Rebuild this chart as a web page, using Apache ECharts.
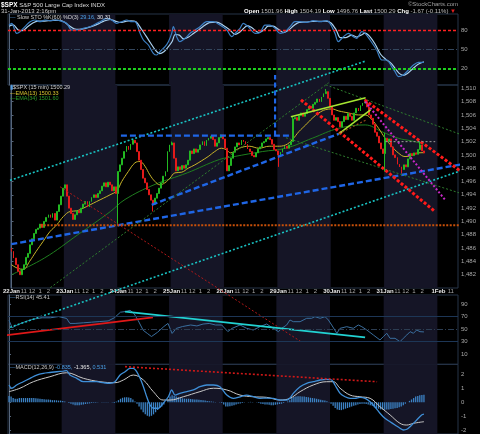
<!DOCTYPE html>
<html><head><meta charset="utf-8">
<script src="https://cdn.jsdelivr.net/npm/echarts@6/dist/echarts.min.js"></script>
<style>html,body{margin:0;padding:0;background:#000;}#c{width:480px;height:434px;}</style>
</head><body><div id="c"></div>
<script>
// ================= DATA =================
const dayLabels = ['22Jan','23Jan','24Jan','25Jan','28Jan','29Jan','30Jan','31Jan','1Feb'];
const hourLabels = ['11','12','1','2'];
const hourBarOffsets = [6,10,14,18];
const barsPerDay = 26;
const totalSlots = 218;
const firstOpen = 1486.0;

// 15-min closes, 22 Jan .. 31 Jan 2:15pm
const closesDay1 = [1485.5,1484.5,1483.5,1482.5,1482.0,1482.8,1483.5,1484.6,1485.2,1486.5,1487.4,1488.2,1488.8,1489.0,1489.6,1489.1,1490.0,1490.6,1491.0,1490.6,1491.2,1490.2,1491.5,1492.5,1493.8,1495.0];
const closesDay2 = [1495.5,1493.8,1492.0,1491.2,1490.3,1491.0,1491.6,1491.3,1492.0,1492.6,1493.0,1492.2,1493.0,1493.6,1494.0,1493.6,1494.2,1494.6,1495.3,1495.8,1495.2,1495.9,1495.5,1494.6,1495.2,1494.2];
const closesDay3 = [1497.5,1498.5,1499.5,1500.5,1501.3,1500.8,1501.6,1502.2,1501.8,1500.5,1499.2,1497.8,1496.5,1495.8,1494.8,1494.0,1493.2,1492.6,1493.5,1494.2,1495.0,1495.8,1496.8,1497.5,1500.5,1501.5];
const closesDay4 = [1501.8,1499.5,1497.6,1498.2,1497.8,1498.4,1498.0,1498.5,1499.2,1500.6,1500.2,1500.9,1500.4,1500.8,1501.5,1502.0,1501.4,1502.2,1502.5,1502.8,1502.3,1501.3,1501.8,1502.6,1503.0,1502.4];
const closesDay5 = [1501.0,1497.6,1498.4,1499.5,1500.4,1501.2,1501.8,1501.5,1502.2,1502.0,1501.6,1500.9,1500.5,1499.9,1499.7,1500.3,1500.9,1501.2,1501.8,1502.0,1502.4,1502.6,1502.3,1501.6,1500.8,1500.6];
const closesDay6 = [1500.0,1500.4,1500.9,1501.3,1501.0,1501.5,1502.0,1505.4,1505.6,1505.2,1505.9,1506.3,1505.8,1506.2,1506.8,1507.3,1507.0,1507.6,1507.9,1508.4,1508.0,1508.7,1509.2,1509.5,1508.5,1507.2];
const closesDay7 = [1506.0,1505.2,1505.6,1505.0,1504.2,1505.0,1505.8,1505.3,1506.2,1505.8,1505.2,1506.3,1507.0,1506.6,1507.4,1507.8,1508.0,1507.2,1506.0,1505.5,1504.6,1503.4,1502.8,1501.8,1500.9,1500.2];
const closesDay8 = [1502.5,1502.0,1502.4,1501.2,1500.0,1499.6,1498.6,1498.2,1497.8,1498.5,1498.2,1499.4,1500.2,1499.9,1500.3,1500.1,1500.8,1501.5,1500.6,1500.29];
// notable wicks: bar -> [low, high]
const wickExtremes = {52:[1489.5,null],69:[1491.5,null],78:[null,1502.0],130:[1498.2,null],137:[null,1505.8],153:[null,1509.9],182:[1497.5,1503.3],190:[1497.2,null],199:[null,1502.0]};

// EMA lines [bar, value]
const ema13Pts = [[0,1483.5],[2.7,1483.0],[5.7,1482.8],[8.8,1484.0],[12,1485.5],[15.4,1487],[18.8,1488.5],[22.1,1489.5],[25.3,1490.75],[28.6,1491.5],[31.8,1491.6],[35,1492.0],[38.3,1492.5],[41.5,1493.0],[44.8,1493.5],[48,1494.0],[51.3,1494.6],[53.7,1496.0],[56.9,1497.5],[60.1,1498.8],[62.6,1499.0],[65,1498.3],[67.4,1497.0],[69.9,1496.0],[72.3,1495.5],[74.7,1495.8],[77.2,1496.5],[79.6,1497.3],[82.9,1497.4],[86.1,1498.0],[89.3,1498.5],[92.5,1499.1],[95.8,1499.75],[99,1500.5],[102.2,1501.0],[104.5,1500.8],[106.8,1500.3],[110.9,1501.0],[115.8,1501.3],[120.6,1501.0],[125.5,1501.3],[129.5,1501.3],[133.6,1501.5],[136.8,1502.3],[140,1503.5],[143.3,1504.5],[146.5,1505.5],[149.7,1506.3],[153,1506.8],[156.1,1506.9],[159.4,1506.6],[164.2,1506.3],[169.1,1506.0],[172.3,1506.0],[175.5,1505.3],[178.8,1504.0],[182,1502.5],[185.2,1501.3],[188.4,1500.3],[191.7,1499.75],[194.9,1499.9],[198.1,1500.3],[201,1500.33]];
const ema34Pts = [[0,1482.0],[16,1484.5],[32.3,1488.0],[48.2,1491.5],[55.3,1493.3],[69.4,1495.5],[85.6,1497.3],[101.2,1499.3],[108.5,1499.75],[122.2,1500.5],[133.6,1501.0],[146.5,1502.5],[159.4,1504.0],[172.3,1504.5],[180.3,1503.5],[188.4,1502.5],[194.9,1502.1],[201,1501.6]];

// Slow stochastic [bar, value]
const stochK = [[0,87.8],[1.3,90.5],[3.7,74.8],[5.3,77.4],[7.7,85.2],[10.2,93],[12.6,95.7],[15,93],[17.4,95.7],[19.8,94.8],[22.3,95.7],[24.7,94.6],[27.9,90.5],[30.4,80],[32.8,80],[36,82.6],[39.2,85.2],[42.5,90.5],[44.1,93],[47.3,98.3],[49.7,95.7],[52.2,90.5],[54.6,93],[57,95.7],[59.4,93],[61,93],[63.5,74.8],[65.1,64.3],[67.5,56.5],[69.9,43.5],[71.5,40.8],[73.1,46],[75.6,53.8],[77.2,61.7],[78.8,74.8],[79.6,85.2],[81.2,69.5],[82.8,61.7],[85.3,67],[87.7,74.8],[90.1,80],[92.5,85.2],[95.8,93],[99,93],[102.2,87.8],[105.5,80],[107.9,69.5],[109.5,74.8],[111.9,82.6],[113.5,90.5],[115.9,85.2],[119.2,74.8],[121.6,76],[124,87.8],[126.4,87.8],[128.9,82.6],[131.3,74.8],[133.7,77.4],[136.1,85.2],[138.5,93],[141,93],[144.2,92],[147.4,94.6],[150.7,93],[153.9,94.6],[155.5,90.5],[157.9,74.8],[159.5,61.7],[162,69.5],[164.4,74.8],[166.8,69.5],[168.4,67],[170.9,77.4],[172.5,74.8],[174.9,64.3],[178.1,48.7],[180.6,33],[183,33],[185.4,22.5],[187,14.7],[188.6,6.8],[191,9.5],[193.5,17.3],[195.9,25.1],[198.3,29.4],[201,29.16]];
const stochD = [[0,86],[2,88],[4.5,80],[6.5,79],[9,85],[11.5,91],[14,94],[16.5,94],[19,94.5],[21.5,95],[24,95],[26.5,93],[29,87],[31.5,82],[34,81],[37,82.5],[40.5,86],[43.5,90],[46,94],[49,96.5],[51.5,94],[54,92],[56.5,93.5],[59,94.5],[61.5,93],[64,82],[66.5,70],[68.5,60],[71,48],[73,43],[75,46],[77,53],[79,62],[80.5,73],[82.5,72],[84.5,66],[87,69],[89.5,75],[92,80.5],[94,85.5],[97,91.5],[100.5,92.5],[103.5,88],[107,80],[109.5,73],[111.5,76],[113.5,82],[115.5,87],[117.5,84],[121,76],[123.5,80],[125.5,86],[128,86],[130.5,81],[133,76],[135.5,80],[138,87],[140.5,92],[144,92.5],[147,93.5],[150.5,93.5],[153.5,94],[156,91],[158.5,80],[160.5,68],[163,68],[166,72],[168.5,69],[170.5,72],[172.5,75],[175,69],[177.5,57],[180,42],[182.5,34],[185,28],[187,20],[189,12],[191,9],[193,12],[195.5,19],[198,26],[201,30.31]];

// RSI(14) [bar, value]
const rsiPts = [[0,64],[1.5,52],[3,55],[5,58],[8,62],[12,66],[16,68],[20,68],[24,70],[27.9,67],[29.5,59],[32,59],[36,60],[40,61],[44,62],[48,63],[51,68],[54,77],[56.5,78],[58.6,80],[60.5,75],[62.5,64],[65,48],[67,43],[69,38],[72,45],[75,54],[77,59],[79,43],[81,51],[84,54],[88,56.5],[91,55],[94,58],[97,59],[100,56.5],[103,56.5],[106,46],[108,51],[111.9,56.5],[115.1,51.2],[118.3,48.5],[121.6,53.8],[124.8,58.1],[128,51.2],[130.5,45.8],[132.1,51.2],[134.5,56.5],[136.1,64.5],[137.7,61.8],[141,61.8],[144.2,67.2],[146.6,67.2],[148.2,69.8],[150.7,67.2],[153.1,69.8],[154.7,64.5],[156.3,56.5],[158.8,43.2],[160.4,51.2],[163.6,53.8],[166.8,51.2],[169.2,56.5],[170.9,53.8],[173.3,48.5],[176.5,40.5],[179.7,32.5],[181.3,37.8],[183,43.2],[184.6,35.2],[187,35.2],[189.4,29.8],[191,35.2],[192.7,40.5],[194.3,45.8],[195.9,43.2],[197.5,48.5],[199.1,45.8],[201,45.41]];

// MACD(12,26,9) [bar, value]
const macdPts = [[0,1.22],[1.3,0.99],[3.7,1.22],[6.9,1.45],[10.2,1.69],[13.4,1.92],[16.6,2.04],[19.8,2.1],[23.1,2.15],[26.3,2.2],[27.9,2.23],[29.5,1.92],[32.8,1.69],[36,1.45],[39.2,1.45],[42.5,1.45],[45.7,1.38],[48.9,1.34],[51.3,1.45],[53.8,1.92],[56.2,2.15],[58.6,2.39],[60.2,2.39],[61.9,2.15],[63.5,1.69],[65.1,1.1],[66.7,0.39],[68.3,-0.19],[69.9,-0.42],[72.3,-0.42],[74.7,-0.07],[77.2,0.39],[78.8,0.87],[80.4,0.51],[82.8,0.63],[86.1,0.75],[89.3,0.87],[92.5,1.1],[95.8,1.22],[99,1.22],[102.2,1.1],[105.5,0.51],[108.7,0.28],[111.9,0.39],[115.1,0.51],[118.3,0.4],[121.6,0.28],[124.8,0.3],[128,0.28],[131.3,0.16],[134.5,0.16],[136.1,0.3],[137.7,0.63],[141,1.1],[144.2,1.34],[147.4,1.45],[150.7,1.57],[153.9,1.62],[156.3,1.57],[157.9,1.22],[160.4,0.63],[162.8,0.39],[165.2,0.28],[167.6,0.28],[170,0.35],[172.5,0.28],[174.9,0.04],[177.2,-0.31],[179.7,-0.77],[182.1,-1.13],[184.6,-1.37],[187,-1.6],[189.4,-1.83],[191,-1.95],[192.7,-1.9],[195.1,-1.6],[197.5,-1.25],[199.9,-0.89],[201,-0.835]];
const signalPts = [[0,0.75],[5.3,0.99],[11.8,1.45],[19.8,1.8],[27.9,2.08],[36,1.69],[44.1,1.45],[51.3,1.38],[55.4,1.57],[60.2,1.92],[65.1,1.57],[69.9,0.75],[74.7,0.16],[78,0.16],[84.4,0.39],[92.5,0.75],[99,0.99],[105.5,0.87],[111.9,0.51],[118.3,0.39],[124.8,0.35],[131.3,0.16],[136.1,0.28],[141,0.75],[147.4,1.22],[153.9,1.45],[157.1,1.45],[160.4,0.99],[165.2,0.51],[170,0.39],[174.9,0.28],[179.7,-0.31],[184.6,-0.89],[189.4,-1.48],[192.7,-1.6],[195.9,-1.48],[201,-1.365]];
const macdHist = [
 0.45,0.4,0.3,0.25,0.25,0.3,0.3,0.3,0.3,0.3,0.3,0.3,0.3,0.28,0.26,0.25,0.24,0.22,0.2,0.2,0.18,0.15,0.15,0.14,0.12,0.12,
 0.1,0.05,0,-0.05,-0.1,-0.15,-0.2,-0.2,-0.2,-0.18,-0.15,-0.12,-0.1,-0.08,-0.05,-0.04,-0.03,-0.02,0,0.02,0.03,0.03,0.02,0.0,-0.02,-0.05,
 0.05,0.15,0.25,0.32,0.35,0.35,0.33,0.3,0.2,0.05,-0.1,-0.3,-0.5,-0.7,-0.85,-0.95,-1.0,-0.95,-0.85,-0.7,-0.55,-0.4,-0.3,-0.15,0,0.2,
 0.4,0.5,0.45,0.4,0.35,0.3,0.28,0.26,0.25,0.25,0.24,0.22,0.2,0.2,0.18,0.16,0.15,0.12,0.1,0.08,0.06,0.04,0.02,0,-0.02,-0.05,
 -0.15,-0.3,-0.3,-0.28,-0.25,-0.2,-0.15,-0.1,-0.08,-0.05,-0.02,0,0.02,0.03,0.02,0,-0.02,-0.05,-0.1,-0.12,-0.15,-0.15,-0.18,-0.2,-0.2,-0.18,
 -0.15,-0.12,-0.1,-0.05,0,0.05,0.15,0.3,0.38,0.4,0.42,0.42,0.4,0.4,0.38,0.35,0.32,0.3,0.28,0.25,0.22,0.18,0.15,0.12,0.08,0.02,
 -0.1,-0.25,-0.4,-0.5,-0.55,-0.55,-0.5,-0.45,-0.4,-0.35,-0.3,-0.25,-0.2,-0.15,-0.12,-0.1,-0.1,-0.12,-0.15,-0.2,-0.25,-0.35,-0.4,-0.45,-0.5,-0.5,
 -0.52,-0.5,-0.5,-0.48,-0.45,-0.42,-0.4,-0.35,-0.3,-0.2,-0.1,0,0.1,0.2,0.3,0.4,0.45,0.5,0.52,0.53];

// hand-drawn trendlines, endpoints as [bar, value]
const priceTrendlines = {
  cyanUpper:[[-4.4,1495.8],[172.5,1514.1]],
  cyanLower:[[-4.4,1473.7],[223.3,1498.1]],
  blueLower:[[-4.4,1486.35],[223.3,1498.8]],
  blueMid:[[68.3,1492.5],[159.4,1503.17]],
  blueTop:[[53.3,1502.9],[136.1,1502.9]],
  blueVertical:[[128.4,1502.9],[128.4,1512.0]],
  orangeSupport:[[14.0,1489.43],[228.3,1489.43]],
  greenRise:[[18.9,1480.05],[154.5,1510.83]],
  greenFallLow:[[133.7,1502.57],[227.2,1493.4]],
  greenFallHigh:[[153.1,1510.53],[225.8,1502.27]],
  redThin:[[23.7,1495.2],[141.0,1471.94]],
  redLower:[[141.0,1508.27],[206.4,1491.46]],
  redUpper:[[172.0,1508.27],[224.3,1496.26]],
  magenta:[[172.3,1508.0],[211.2,1493.26]],
  limeTop:[[136.1,1505.72],[172.5,1508.57]],
  limeDiag:[[159.4,1503.17],[174.9,1506.77]],
  brownShort:[[159.4,1503.17],[172.9,1505.27]],
  grayResist:[[182.2,1502.0],[206.4,1502.0]]
};
const rsiTrendlines = { red:[[-4.4,38.9],[69.7,68.8]], cyan:[[56.2,77.8],[172.5,36.8]] };
const macdTrendlines = { redDots:[[56.2,2.51],[178.3,1.45]] };

const stochLevels = [80,50,20];
const rsiLevels = [70,50,30];
const stochTicks = [20,50,80];
const rsiTicks = [10,30,50,70,90];
const macdTicks = [-2,-1,0,1,2];

// ================= STYLES / BUILD =================
const FONT = '"Liberation Sans", Arial, sans-serif';
const NARROW = '"Liberation Sans Narrow", "Liberation Sans", Arial, sans-serif';
const BORDER = '#263449';
const AXIS = '#56657a';
const LABEL = '#a8a8a8';
const BAND = '#151526';
const UP = '#22b922', DOWN = '#e41a1a';

const closes = [].concat(closesDay1,closesDay2,closesDay3,closesDay4,closesDay5,closesDay6,closesDay7,closesDay8);
const candles = closes.map((c,i)=>{
  const o = i===0 ? firstOpen : closes[i-1];
  let lo = Math.min(o,c), hi = Math.max(o,c);
  const w = wickExtremes[i];
  if (w){ if (w[0]!=null) lo = w[0]; if (w[1]!=null) hi = w[1]; }
  return [o,c,lo,hi];
});
const slotNames = Array.from({length: totalSlots}, (_,i)=>String(i));
const labelMap = {};
dayLabels.forEach((d,k)=>{
  const s = k*barsPerDay;
  if (s < totalSlots) labelMap[s] = {t:d, day:true};
  hourBarOffsets.forEach((off,h)=>{ if (s+off < totalSlots) labelMap[s+off] = {t:hourLabels[h], day:false}; });
});
const bandAreas = [];
for (let d=1; d<dayLabels.length; d+=2){
  bandAreas.push([{xAxis: d*barsPerDay-0.5},{xAxis: (d+1)*barsPerDay-0.5}]);
}

const trendStyles = {
  cyanUpper:{color:'#19c3c3',width:1.6,type:[2,2]},
  cyanLower:{color:'#19c3c3',width:1.6,type:[2,2]},
  blueLower:{color:'#1f66e6',width:2.4,type:[6,3]},
  blueMid:{color:'#1f66e6',width:2.4,type:[6,3]},
  blueTop:{color:'#1f66e6',width:2.4,type:[6,3]},
  blueVertical:{color:'#1f66e6',width:2.2,type:[5,3]},
  orangeSupport:{color:'#c8500a',width:2,type:[2,1.5]},
  greenRise:{color:'#2e7d2e',width:1,type:[2,2]},
  greenFallLow:{color:'#2e7d2e',width:1,type:[2,2]},
  greenFallHigh:{color:'#2e7d2e',width:1,type:[2,2]},
  redThin:{color:'#b01818',width:1,type:[2,2]},
  redLower:{color:'#ff1a1a',width:3,type:[3,2]},
  redUpper:{color:'#ff1a1a',width:3,type:[3,2]},
  magenta:{color:'#c828c8',width:2,type:[2,2]},
  limeTop:{color:'#a6e632',width:1.6,type:'solid'},
  limeDiag:{color:'#a6e632',width:1.6,type:'solid'},
  brownShort:{color:'#9a4a1a',width:1.2,type:[2,2]},
  grayResist:{color:'#8a8a8a',width:1.2,type:[2,2]}
};
const rsiTrendStyles = { red:{color:'#e01818',width:1.8,type:'solid'}, cyan:{color:'#22d2d2',width:1.8,type:'solid'} };
const macdTrendStyles = { redDots:{color:'#d01818',width:1.6,type:[2,2]} };

function lineS(data, xi, yi, lineStyle, opts){
  return Object.assign({type:'line', xAxisIndex:xi, yAxisIndex:yi, data, symbol:'none', silent:true, lineStyle, z:4, animation:false}, opts||{});
}
function bandS(xi, yi){
  return {type:'line', xAxisIndex:xi, yAxisIndex:yi, data:[], silent:true, z:0,
    markArea:{silent:true, itemStyle:{color:BAND}, data:bandAreas}};
}
function levelS(xi, yi, items){
  return {type:'line', xAxisIndex:xi, yAxisIndex:yi, data:[], silent:true, z:1,
    markLine:{silent:true, symbol:['none','none'], label:{show:false}, data:items, animation:false}};
}
function yAx(gi, min, max, ticks, extra){
  return Object.assign({type:'value', gridIndex:gi, position:'right', min, max,
    axisLine:{show:true, lineStyle:{color:AXIS}},
    axisTick:{show:true, length:2, lineStyle:{color:AXIS}, customValues:ticks},
    axisLabel:{color:LABEL, fontSize:6, fontFamily:FONT, margin:3, customValues:ticks},
    splitLine:{show:false}}, extra||{});
}
const valX = gi => ({type:'value', gridIndex:gi, min:-0.5, max:totalSlots-0.5, show:false});

const series = [];
[[0,0],[2,1],[3,2],[5,3]].forEach(([xi,yi])=>series.push(bandS(xi,yi)));
// stochastic
series.push(levelS(0,0,[
  {yAxis:stochLevels[0], lineStyle:{color:'#ff2020',width:1.4,type:[3,2]}},
  {yAxis:stochLevels[1], lineStyle:{color:'#34475e',width:1,type:[6,2,1,2]}},
  {yAxis:stochLevels[2], lineStyle:{color:'#1ed01e',width:2,type:[3,2]}}
]));
series.push(lineS(stochD,0,0,{color:'#a9d0ee',width:1.2},{smooth:0.3,z:3}));
series.push(lineS(stochK,0,0,{color:'#3b7fc4',width:1.2},{smooth:0.3,z:3}));
// price
series.push({type:'candlestick', xAxisIndex:1, yAxisIndex:1, data:candles, barWidth:'65%', silent:true, z:3,
  itemStyle:{color:UP, color0:DOWN, borderColor:UP, borderColor0:DOWN, borderWidth:1}});
series.push(lineS(ema34Pts,2,1,{color:'#1f7f1f',width:1},{smooth:0.4,z:3}));
series.push(lineS(ema13Pts,2,1,{color:'#c8b428',width:1},{smooth:0.4,z:3}));
Object.keys(priceTrendlines).forEach(k=>series.push(lineS(priceTrendlines[k],2,1,trendStyles[k],{clip:false})));
// RSI
series.push(levelS(3,2,[
  {yAxis:rsiLevels[0], lineStyle:{color:'#1d3656',width:1,type:'solid'}},
  {yAxis:rsiLevels[1], lineStyle:{color:'#2c3d52',width:1,type:[6,2,1,2]}},
  {yAxis:rsiLevels[2], lineStyle:{color:'#1d3656',width:1,type:'solid'}}
]));
series.push(lineS(rsiPts,3,2,{color:'#3a6f9f',width:1},{z:3}));
Object.keys(rsiTrendlines).forEach(k=>series.push(lineS(rsiTrendlines[k],3,2,rsiTrendStyles[k],{clip:false})));
// MACD
series.push({type:'bar', xAxisIndex:4, yAxisIndex:3, data:macdHist, barWidth:1.3, silent:true, z:2, itemStyle:{color:'#3c82c4'}});
series.push(lineS(signalPts,5,3,{color:'#c8c8c8',width:1},{smooth:0.4,z:3}));
series.push(lineS(macdPts,5,3,{color:'#3f8fd8',width:1.3},{smooth:0.3,z:3}));
Object.keys(macdTrendlines).forEach(k=>series.push(lineS(macdTrendlines[k],5,3,macdTrendStyles[k],{clip:false})));

function txt(x, y, text, rich, fill, align, size, fam){
  return {type:'text', x, y, silent:true, z:100,
    style:{text, fill:fill||'#cfcfcf', font:(size||6)+'px '+(fam||FONT), rich:rich||{}, align:align||'left', verticalAlign:'middle'}};
}
const R = {
  b:{fill:'#ffffff', fontWeight:'bold', fontSize:6, fontFamily:FONT},
  B:{fill:'#ffffff', fontWeight:'bold', fontSize:6.5, fontFamily:FONT},
  v:{fill:'#4aa0e6', fontSize:5.5, fontFamily:FONT},
  w:{fill:'#e8e8e8', fontSize:5.5, fontFamily:FONT},
  k:{fill:'#4a8fd0', fontSize:5.5, fontFamily:FONT},
  y:{fill:'#d8c430', fontSize:5.5, fontFamily:FONT},
  g:{fill:'#2a9a2a', fontSize:5.5, fontFamily:FONT},
  r:{fill:'#e02020', fontSize:6, fontFamily:FONT},
  i:{fill:'#5aa0e0', fontSize:5.5, fontFamily:FONT}
};
const graphic = [
  txt(1,5,'{B|$SPX} S&P 500 Large Cap Index INDX',R,'#dcdcdc','left',6,NARROW),
  txt(1,11.5,'31-Jan-2013 2:16pm',R,'#cfcfcf','left',6,NARROW),
  txt(458,4.5,'\u00A9StockCharts.com',R,'#a0a0a0','right',6),
  txt(456,11.5,'{b|Open} 1501.96 {b|High} 1504.19 {b|Low} 1496.76 {b|Last} 1500.29 {b|Chg} -1.67 (-0.11%) {r|\u25BC}',R,'#bdbdbd','right',6),
  txt(10,17.5,'{k|\u2014} Slow STO %K(60) %D(3) {v|29.16,} {w|30.31}',R,'#d0d0d0','left',5.5),
  txt(10,87.8,'{i|\u25AE}$SPX (15 min) 1500.29',R,'#d0d0d0','left',5.5),
  txt(10,93.6,'{y|\u2014}EMA(13) 1500.33',R,'#d8c430','left',5.5),
  txt(10,98.9,'{g|\u2014}EMA(34) 1501.60',R,'#2a9a2a','left',5.5),
  txt(10,297.8,'{k|\u2014}RSI(14) 45.41',R,'#c8c8c8','left',5.5),
  txt(10,367.6,'{k|\u2014}MACD(12,26,9) {v|-0.835,} {w|-1.365,} {v|0.531}',R,'#c8c8c8','left',5.5)
];

const gridBase = {left:8, right:22, show:true, borderColor:BORDER, borderWidth:1, backgroundColor:'transparent'};
const option = {
  backgroundColor:'#000',
  animation:false,
  grid:[
    Object.assign({top:14, height:71}, gridBase),
    Object.assign({top:85, height:203}, gridBase),
    Object.assign({top:295, height:69.3}, gridBase),
    Object.assign({top:364.3, height:69.7}, gridBase)
  ],
  xAxis:[
    valX(0),
    {type:'category', gridIndex:1, data:slotNames, boundaryGap:true,
      axisLine:{show:false}, axisTick:{show:false}, splitLine:{show:false},
      axisLabel:{interval:(i)=>labelMap[i]!==undefined, margin:0,
        formatter:(v,i)=>{const m=labelMap[i]; return m ? (m.day?'{d|'+m.t+'}':'{h|'+m.t+'}') : '';},
        rich:{d:{color:'#e6e6e6',fontWeight:'bold',fontSize:6,fontFamily:FONT}, h:{color:'#a8a8a8',fontSize:6,fontFamily:FONT}}}},
    valX(1),
    valX(2),
    {type:'category', gridIndex:3, data:slotNames, boundaryGap:true, show:false},
    valX(3)
  ],
  yAxis:[
    yAx(0,-6.2,105.1,stochTicks),
    {type:'value', gridIndex:1, position:'right', min:1480, max:1510.5, interval:2,
      axisLine:{show:true, lineStyle:{color:AXIS}}, axisTick:{show:true,length:2,lineStyle:{color:AXIS}},
      axisLabel:{color:LABEL, fontSize:6, fontFamily:FONT, margin:3, showMinLabel:false}, splitLine:{show:false}},
    yAx(2,-6.4,104.5,rsiTicks),
    yAx(3,-2.232,2.676,macdTicks)
  ],
  series,
  graphic
};
const chart = echarts.init(document.getElementById('c'), null, {renderer:'canvas', width:480, height:434});
chart.setOption(option);
</script>
</body></html>
